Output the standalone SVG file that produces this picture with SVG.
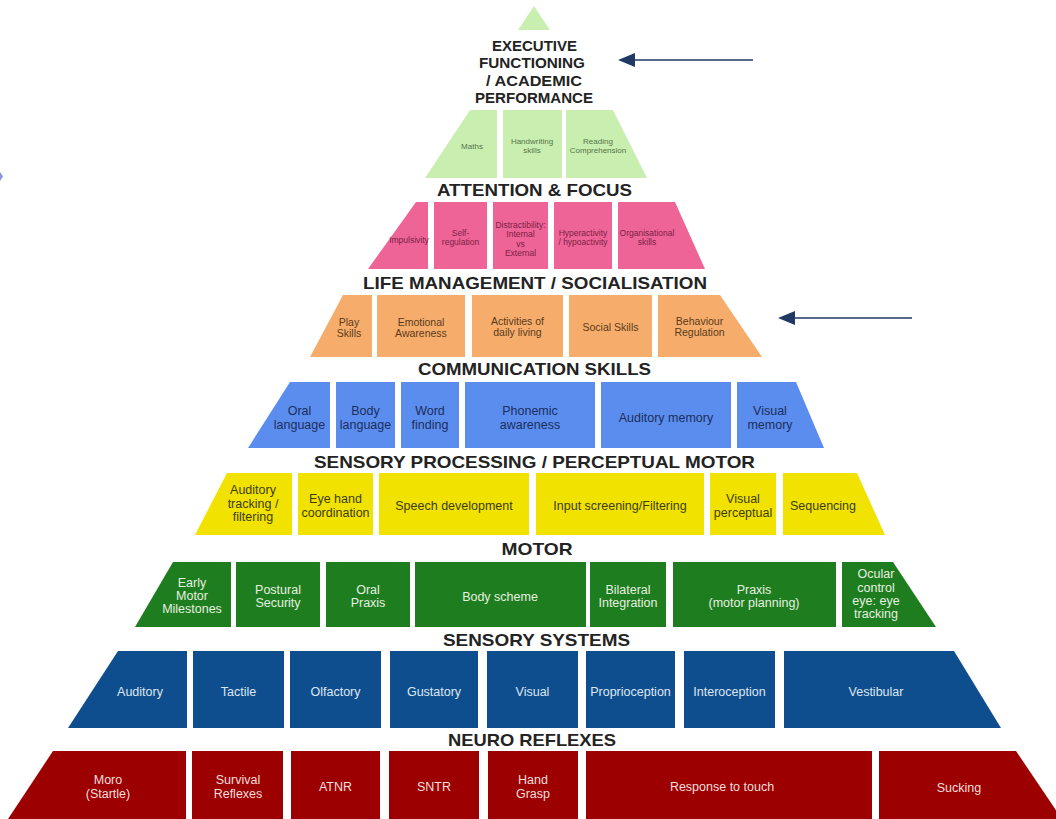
<svg xmlns="http://www.w3.org/2000/svg" width="1056" height="819" viewBox="0 0 1056 819">
<style>
.t{font-family:"Liberation Sans",Arial,sans-serif;text-anchor:middle;dominant-baseline:central}
.h{font-family:"Liberation Sans",Arial,sans-serif;font-weight:bold;fill:#232323;text-anchor:middle;dominant-baseline:central}
.g1{fill:#c9efb0}.g1t{fill:#55734a;font-size:8px}
.pk{fill:#ef6496}.pkt{fill:#7a1f45;font-size:8.5px}
.or{fill:#f6ad6b}.ort{fill:#5a3a1c;font-size:10.5px}
.lb{fill:#5b8def}.lbt{fill:#1c2d5c;font-size:12.5px}
.ye{fill:#f1e200}.yet{fill:#3d3d10;font-size:12.5px}
.gr{fill:#1e7d1e}.grt{fill:#e6f0e0;font-size:12.5px}
.db{fill:#0f4e8e}.dbt{fill:#dde6f0;font-size:12.5px}
.rd{fill:#9c0000}.rdt{fill:#f2dede;font-size:12.5px}
.arr{stroke:#1f3864;stroke-width:1.6;fill:none}
.ah{fill:#1f3864}
</style>
<rect width="1056" height="819" fill="#ffffff"/>

<!-- Top -->
<g id="apex"><polygon points="534,6 518,30 550,30" class="g1"/></g>
<g id="title-executive">
<text class="h" x="534.5" y="45" font-size="15" textLength="85" lengthAdjust="spacingAndGlyphs">EXECUTIVE</text>
<text class="h" x="532" y="62.5" font-size="15" textLength="106" lengthAdjust="spacingAndGlyphs">FUNCTIONING</text>
<text class="h" x="534" y="80" font-size="15" textLength="96" lengthAdjust="spacingAndGlyphs">/ ACADEMIC</text>
<text class="h" x="534" y="97.5" font-size="15" textLength="118" lengthAdjust="spacingAndGlyphs">PERFORMANCE</text>
</g>

<!-- Row 1 -->
<g id="maths"><polygon class="g1" points="470,110 497,110 497,178 425,178"/><text class="t g1t" x="472" y="146">Maths</text></g>
<g id="handwriting"><rect class="g1" x="503" y="110" width="59" height="68"/><text class="t g1t" x="532" y="141">Handwriting</text><text class="t g1t" x="532" y="150.5">skills</text></g>
<g id="reading"><polygon class="g1" points="566,110 613,110 647,178 566,178"/><text class="t g1t" x="598" y="141">Reading</text><text class="t g1t" x="598" y="150.5">Comprehension</text></g>

<!-- Row 2 -->
<text class="h" x="534.5" y="190" font-size="17" textLength="195" lengthAdjust="spacingAndGlyphs">ATTENTION &amp; FOCUS</text>
<g id="impulsivity"><polygon class="pk" points="416,202 428,202 428,269 368,269"/><text class="t pkt" x="409" y="240">Impulsivity</text></g>
<g id="self-regulation"><rect class="pk" x="434" y="202" width="53" height="67"/><text class="t pkt" x="460.5" y="233">Self-</text><text class="t pkt" x="460.5" y="242">regulation</text></g>
<g id="distractibility"><rect class="pk" x="493" y="202" width="55" height="67"/><text class="t pkt" x="520.5" y="224.5">Distractibility:</text><text class="t pkt" x="520.5" y="234">Internal</text><text class="t pkt" x="520.5" y="243.5">vs</text><text class="t pkt" x="520.5" y="253">External</text></g>
<g id="hyperactivity"><rect class="pk" x="554" y="202" width="58" height="67"/><text class="t pkt" x="583" y="233">Hyperactivity</text><text class="t pkt" x="583" y="242">/ hypoactivity</text></g>
<g id="organisational"><polygon class="pk" points="618,202 675,202 705,269 618,269"/><text class="t pkt" x="647" y="233">Organisational</text><text class="t pkt" x="647" y="242">skills</text></g>

<!-- Row 3 -->
<text class="h" x="535" y="283" font-size="17" textLength="344" lengthAdjust="spacingAndGlyphs">LIFE MANAGEMENT / SOCIALISATION</text>
<g id="play-skills"><polygon class="or" points="343,295 372,295 372,357 310,357"/><text class="t ort" x="349" y="322">Play</text><text class="t ort" x="349" y="333">Skills</text></g>
<g id="emotional-awareness"><rect class="or" x="377" y="295" width="88" height="62"/><text class="t ort" x="421" y="322">Emotional</text><text class="t ort" x="421" y="333">Awareness</text></g>
<g id="activities"><rect class="or" x="472" y="295" width="91" height="62"/><text class="t ort" x="517.5" y="321">Activities of</text><text class="t ort" x="517.5" y="332">daily living</text></g>
<g id="social-skills"><rect class="or" x="569" y="295" width="83" height="62"/><text class="t ort" x="610.5" y="327">Social Skills</text></g>
<g id="behaviour-regulation"><polygon class="or" points="658,295 720,295 762,357 658,357"/><text class="t ort" x="699.5" y="321">Behaviour</text><text class="t ort" x="699.5" y="332">Regulation</text></g>

<!-- Row 4 -->
<text class="h" x="534.5" y="369" font-size="17" textLength="233" lengthAdjust="spacingAndGlyphs">COMMUNICATION SKILLS</text>
<g id="oral-language"><polygon class="lb" points="290,382 330,382 330,448 248,448"/><text class="t lbt" x="299.5" y="411">Oral</text><text class="t lbt" x="299.5" y="425">language</text></g>
<g id="body-language"><rect class="lb" x="336" y="382" width="59" height="66"/><text class="t lbt" x="365.5" y="411">Body</text><text class="t lbt" x="365.5" y="425">language</text></g>
<g id="word-finding"><rect class="lb" x="401" y="382" width="58" height="66"/><text class="t lbt" x="430" y="411">Word</text><text class="t lbt" x="430" y="425">finding</text></g>
<g id="phonemic-awareness"><rect class="lb" x="465" y="382" width="130" height="66"/><text class="t lbt" x="530" y="411">Phonemic</text><text class="t lbt" x="530" y="425">awareness</text></g>
<g id="auditory-memory"><rect class="lb" x="601" y="382" width="130" height="66"/><text class="t lbt" x="666" y="418">Auditory memory</text></g>
<g id="visual-memory"><polygon class="lb" points="737,382 796,382 824,448 737,448"/><text class="t lbt" x="770" y="411">Visual</text><text class="t lbt" x="770" y="425">memory</text></g>

<!-- Row 5 -->
<text class="h" x="534.5" y="462" font-size="17" textLength="441" lengthAdjust="spacingAndGlyphs">SENSORY PROCESSING / PERCEPTUAL MOTOR</text>
<g id="auditory-tracking"><polygon class="ye" points="227,473 292,473 292,535 195,535"/><text class="t yet" x="253" y="490">Auditory</text><text class="t yet" x="253" y="504">tracking /</text><text class="t yet" x="253" y="517">filtering</text></g>
<g id="eye-hand"><rect class="ye" x="298" y="473" width="75" height="62"/><text class="t yet" x="335.5" y="499">Eye hand</text><text class="t yet" x="335.5" y="513">coordination</text></g>
<g id="speech-development"><rect class="ye" x="379" y="473" width="150" height="62"/><text class="t yet" x="454" y="506">Speech development</text></g>
<g id="input-screening"><rect class="ye" x="536" y="473" width="168" height="62"/><text class="t yet" x="620" y="506">Input screening/Filtering</text></g>
<g id="visual-perceptual"><rect class="ye" x="710" y="473" width="66" height="62"/><text class="t yet" x="743" y="499">Visual</text><text class="t yet" x="743" y="513">perceptual</text></g>
<g id="sequencing"><polygon class="ye" points="783,473 857,473 885,535 783,535"/><text class="t yet" x="823" y="506">Sequencing</text></g>

<!-- Row 6 -->
<text class="h" x="537" y="549" font-size="17" textLength="71" lengthAdjust="spacingAndGlyphs">MOTOR</text>
<g id="early-motor"><polygon class="gr" points="173,562 231,562 231,627 135,627"/><text class="t grt" x="192" y="583">Early</text><text class="t grt" x="192" y="596">Motor</text><text class="t grt" x="192" y="609">Milestones</text></g>
<g id="postural-security"><rect class="gr" x="236" y="562" width="84" height="65"/><text class="t grt" x="278" y="590">Postural</text><text class="t grt" x="278" y="603">Security</text></g>
<g id="oral-praxis"><rect class="gr" x="326" y="562" width="84" height="65"/><text class="t grt" x="368" y="590">Oral</text><text class="t grt" x="368" y="603">Praxis</text></g>
<g id="body-scheme"><rect class="gr" x="415" y="562" width="171" height="65"/><text class="t grt" x="500" y="597">Body scheme</text></g>
<g id="bilateral"><rect class="gr" x="590" y="562" width="76" height="65"/><text class="t grt" x="628" y="590">Bilateral</text><text class="t grt" x="628" y="603">Integration</text></g>
<g id="praxis"><rect class="gr" x="673" y="562" width="163" height="65"/><text class="t grt" x="754" y="590">Praxis</text><text class="t grt" x="754" y="603">(motor planning)</text></g>
<g id="ocular"><polygon class="gr" points="842,562 893,562 936,627 842,627"/><text class="t grt" x="876" y="574">Ocular</text><text class="t grt" x="876" y="588">control</text><text class="t grt" x="876" y="601">eye: eye</text><text class="t grt" x="876" y="614">tracking</text></g>

<!-- Row 7 -->
<text class="h" x="536.5" y="640" font-size="17" textLength="187" lengthAdjust="spacingAndGlyphs">SENSORY SYSTEMS</text>
<g id="auditory"><polygon class="db" points="118,651 187,651 187,728 68,728"/><text class="t dbt" x="140" y="692">Auditory</text></g>
<g id="tactile"><rect class="db" x="193" y="651" width="91" height="77"/><text class="t dbt" x="238.5" y="692">Tactile</text></g>
<g id="olfactory"><rect class="db" x="290" y="651" width="91" height="77"/><text class="t dbt" x="335.5" y="692">Olfactory</text></g>
<g id="gustatory"><rect class="db" x="390" y="651" width="88" height="77"/><text class="t dbt" x="434" y="692">Gustatory</text></g>
<g id="visual"><rect class="db" x="487" y="651" width="91" height="77"/><text class="t dbt" x="532.5" y="692">Visual</text></g>
<g id="proprioception"><rect class="db" x="586" y="651" width="89" height="77"/><text class="t dbt" x="630.5" y="692">Proprioception</text></g>
<g id="interoception"><rect class="db" x="684" y="651" width="91" height="77"/><text class="t dbt" x="729.5" y="692">Interoception</text></g>
<g id="vestibular"><polygon class="db" points="784,651 954,651 1001,728 784,728"/><text class="t dbt" x="876" y="692">Vestibular</text></g>

<!-- Row 8 -->
<text class="h" x="532" y="740" font-size="17" textLength="168" lengthAdjust="spacingAndGlyphs">NEURO REFLEXES</text>
<g id="moro"><polygon class="rd" points="53,751 186,751 186,819 8,819"/><text class="t rdt" x="108" y="780">Moro</text><text class="t rdt" x="108" y="794">(Startle)</text></g>
<g id="survival"><rect class="rd" x="192" y="751" width="91" height="68"/><text class="t rdt" x="238" y="780">Survival</text><text class="t rdt" x="238" y="794">Reflexes</text></g>
<g id="atnr"><rect class="rd" x="291" y="751" width="89" height="68"/><text class="t rdt" x="335.5" y="787">ATNR</text></g>
<g id="sntr"><rect class="rd" x="389" y="751" width="90" height="68"/><text class="t rdt" x="434" y="787">SNTR</text></g>
<g id="hand-grasp"><rect class="rd" x="488" y="751" width="90" height="68"/><text class="t rdt" x="533" y="780">Hand</text><text class="t rdt" x="533" y="794">Grasp</text></g>
<g id="response-to-touch"><rect class="rd" x="586" y="751" width="286" height="68"/><text class="t rdt" x="722" y="787">Response to touch</text></g>
<g id="sucking"><polygon class="rd" points="879,751 1016,751 1062,819 879,819"/><text class="t rdt" x="959" y="788">Sucking</text></g>

<!-- Connectors -->
<g id="connectors">
<line class="arr" x1="753" y1="60" x2="632" y2="60"/>
<polygon class="ah" points="618,60 635,53 635,67"/>
<line class="arr" x1="912" y1="318" x2="792" y2="318"/>
<polygon class="ah" points="778,318 795,311 795,325"/>
<polygon points="0,172 3,176.5 0,181" fill="#3a4ad0" opacity="0.6"/>
</g>
</svg>
